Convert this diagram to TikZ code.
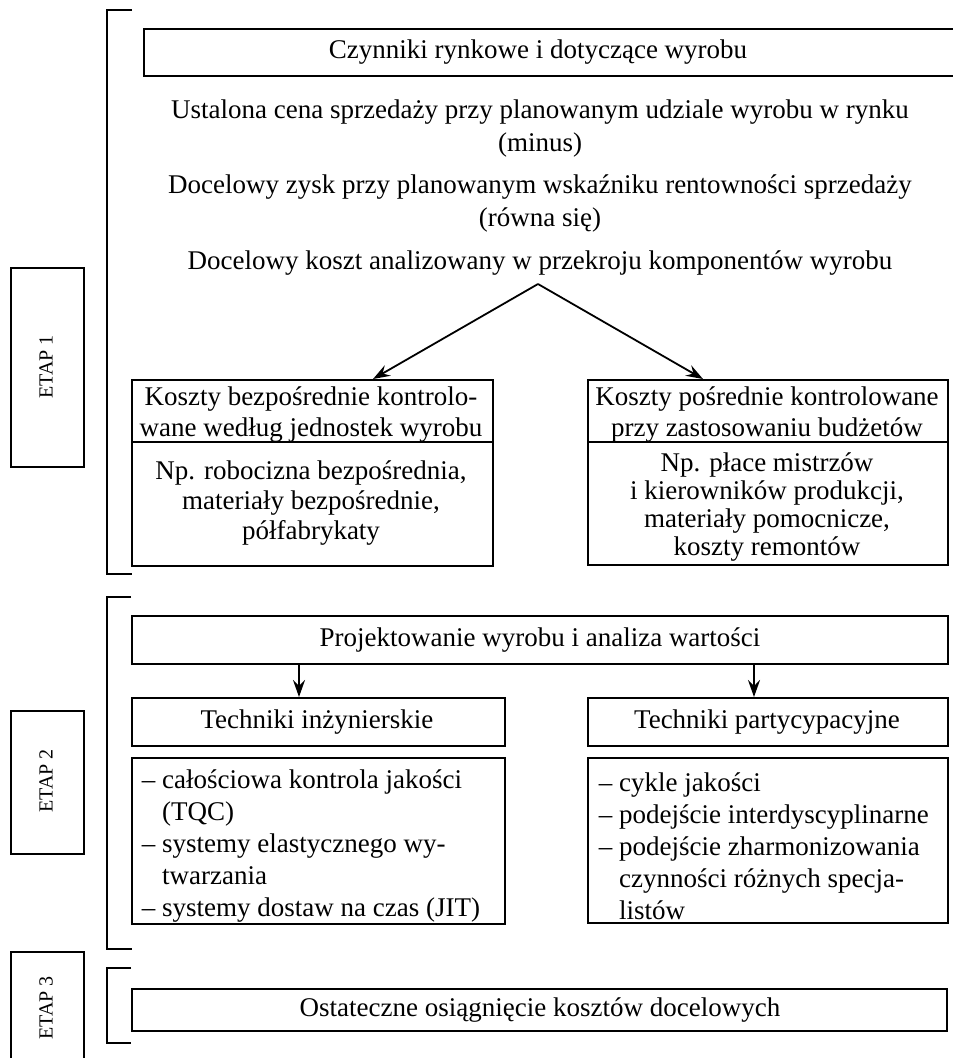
\documentclass[tikz,border=0pt]{standalone}
\usepackage{fontspec}
\setmainfont{Liberation Serif}
\usetikzlibrary{arrows.meta}
\begin{document}
\begin{tikzpicture}[x=1pt,y=-1pt, line width=1.8pt,
  box/.style={draw, anchor=north west, inner sep=0pt},
  txt/.style={font=\fontsize{27}{31}\selectfont, align=center, inner sep=0pt},
  lst/.style={font=\fontsize{27}{32}\selectfont, align=left, inner sep=0pt, anchor=west},
  etap/.style={font=\fontsize{20}{22}\selectfont, rotate=90, inner sep=0pt},
  arr/.style={-{Stealth[length=17pt,width=12pt,inset=6pt]}}]
\useasboundingbox (0,0) rectangle (953,1058);

% brackets
\draw (132,10) -- (107,10) -- (107,574) -- (132,574);
\draw (131,597) -- (107,597) -- (107,949) -- (132,949);
\draw (131,968) -- (107,968) -- (107,1043) -- (131,1043);

% ETAP boxes
\node[box, minimum width=73pt, minimum height=199pt] (e1) at (10,267) {};
\node[etap] (e1t) at (46,367) {ETAP 1};
\node[box, minimum width=73pt, minimum height=143pt] (e2) at (10,710) {};
\node[etap] (e2t) at (46,781) {ETAP 2};
\node[box, minimum width=73pt, minimum height=130pt] (e3) at (10,951) {};
\node[etap] (e3t) at (46,1008) {ETAP 3};

% stage 1
\node[box, minimum width=830pt, minimum height=47pt] (top) at (143,28) {};
\node[txt] (toptxt) at (538,52) {Czynniki rynkowe i dotyczące wyrobu};
\node[txt] (l1) at (540,112) {Ustalona cena sprzedaży przy planowanym udziale wyrobu w rynku};
\node[txt] (l2) at (540,145) {(minus)};
\node[txt] (l3) at (540,187) {Docelowy zysk przy planowanym wskaźniku rentowności sprzedaży};
\node[txt] (l4) at (540,220) {(równa się)};
\node[txt] (l5) at (540,263) {Docelowy koszt analizowany w przekroju komponentów wyrobu};
\coordinate (apex) at (538,284);

\node[box, minimum width=361pt, minimum height=186pt] (L1) at (131,379) {};
\draw (131,442) -- (492,442);
\node[txt] (L1h) at (311,415) {Koszty bezpośrednie kontrolo-\\wane według jednostek wyrobu};
\node[txt, font=\fontsize{27}{30}\selectfont] (L1b) at (311,503) {Np. robocizna bezpośrednia,\\materiały bezpośrednie,\\półfabrykaty};

\node[box, minimum width=360pt, minimum height=185pt] (R1) at (587,379) {};
\draw (587,442) -- (947,442);
\node[txt] (R1h) at (767,415) {Koszty pośrednie kontrolowane\\przy zastosowaniu budżetów};
\node[txt, font=\fontsize{27}{28.3}\selectfont] (R1b) at (767,507) {Np. płace mistrzów\\i kierowników produkcji,\\materiały pomocnicze,\\koszty remontów};

\coordinate (la) at (373,379);
\coordinate (ra) at (703,379);
\draw[arr] (apex) -- (la);
\draw[arr] (apex) -- (ra);

% stage 2
\node[box, minimum width=816pt, minimum height=48pt] (P) at (131,615) {};
\node[txt] (Pt) at (540,640) {Projektowanie wyrobu i analiza wartości};
\node[box, minimum width=373pt, minimum height=48pt] (TI) at (131,697) {};
\node[txt] (TIt) at (317,722) {Techniki inżynierskie};
\node[box, minimum width=360pt, minimum height=48pt] (TP) at (587,697) {};
\node[txt] (TPt) at (767,722) {Techniki partycypacyjne};
\draw[arr] (299,663) -- (299,697);
\draw[arr] (754,663) -- (754,697);

\node[box, minimum width=373pt, minimum height=166pt] (LL) at (131,757) {};
\node[lst] (LLt) at (141,846) {– całościowa kontrola jakości\\\hphantom{– }(TQC)\\– systemy elastycznego wy-\\\hphantom{– }twarzania\\– systemy dostaw na czas (JIT)};
\node[box, minimum width=360pt, minimum height=165pt] (RL) at (587,757) {};
\node[lst] (RLt) at (598,846) {– cykle jakości\\– podejście interdyscyplinarne\\– podejście zharmonizowania\\\hphantom{– }czynności różnych specja-\\\hphantom{– }listów};

% stage 3
\node[box, minimum width=815pt, minimum height=42pt] (F) at (131,988) {};
\node[txt] (Ft) at (540,1010) {Ostateczne osiągnięcie kosztów docelowych};
\end{tikzpicture}
\end{document}
